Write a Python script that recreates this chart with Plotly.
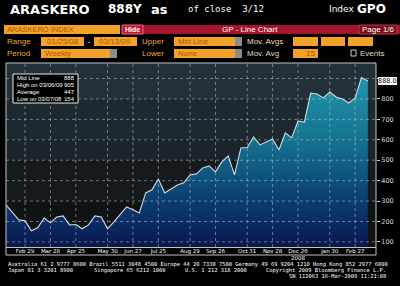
import plotly.graph_objects as go
import pandas as pd

# ---------------- data ----------------
dates = pd.date_range("2008-02-08", periods=58, freq="7D")
values = [281, 242, 208, 203, 154, 169, 217, 193, 222, 227,
          183, 185, 164, 183, 227, 222, 164, 198, 237, 271,
          257, 242, 340, 355, 408, 340, 359, 379, 389, 428,
          433, 462, 472, 443, 492, 521, 428, 560, 562, 614,
          575, 590, 604, 550, 634, 609, 692, 687, 829, 824,
          805, 834, 810, 800, 780, 805, 905, 888]
tick_dates = ["2008-02-29", "2008-03-28", "2008-04-25", "2008-05-30", "2008-06-27",
              "2008-07-25", "2008-08-29", "2008-09-26", "2008-10-31", "2008-11-28",
              "2008-12-26", "2009-01-30", "2009-02-27"]
tick_labels = ["Feb 29", "Mar 28", "Apr 25", "May 30", "Jun 27", "Jul 25", "Aug 29",
               "Sep 26", "Oct 31", "Nov 28", "Dec 26<br>2008", "Jan 30", "Feb 27"]
y_ticks = [100, 200, 300, 400, 500, 600, 700, 800, 900]
y_tick_labels = ["100", "200", "300", "400", "500", "600", "700", "800", ""]  # 900 hidden by the 888 marker
stats_labels = ["Mid Line", "High on 03/06/09", "Average", "Low on 03/07/08"]
stats_values = ["888", "905", "447", "154"]
last_label = "888.0"
last_value = 888

# ---------------- geometry helpers (pixel -> paper) ----------------
L, R, T, B = 6, 376, 63, 247
W, H = R - L, B - T
def PX(x): return (x - L) / W
def PY(y): return (B - y) / H

Y_MIN, Y_MAX = 75, 976
x_end = dates[-1] + pd.Timedelta(days=9)

fig = go.Figure()
fig.add_trace(go.Scatter(
    x=dates, y=values, mode="lines",
    line=dict(color="#d4dbe1", width=1.1),
    fill="tozeroy",
    fillgradient=dict(type="vertical",
                      colorscale=[[0.0, "#08184a"], [0.14, "#0b2d66"], [0.25, "#0c3c70"],
                                  [0.42, "#0f5a80"], [0.58, "#14738f"], [0.9, "#2092ab"],
                                  [1.0, "#259ab2"]],
                      start=Y_MIN, stop=Y_MAX),
    hoverinfo="skip", showlegend=False))

shapes = []
# background bands
bands = [(Y_MIN, 300, "#0f1314"), (300, 500, "#151b1d"), (500, 600, "#1a242a"),
         (600, 800, "#1d2931"), (800, Y_MAX, "#213039")]
for y0, y1, c in bands:
    shapes.append(dict(type="rect", xref="paper", yref="y", x0=0, x1=1, y0=y0, y1=y1,
                       fillcolor=c, line=dict(width=0), layer="below"))
# grid lines (from tick arrays)
gcol = "rgba(185,195,198,0.55)"
for v in y_ticks:
    shapes.append(dict(type="line", xref="paper", yref="y", x0=0, x1=1, y0=v, y1=v,
                       line=dict(color=gcol, width=1, dash="dot"), layer="above"))
for d in tick_dates:
    shapes.append(dict(type="line", xref="x", yref="paper", x0=d, x1=d, y0=0, y1=1,
                       line=dict(color=gcol, width=1, dash="dot"), layer="above"))
# chart frame
shapes.append(dict(type="rect", xref="paper", yref="paper", x0=PX(6), x1=PX(376),
                   y0=PY(255), y1=PY(63), line=dict(color="#c4c4c4", width=1), layer="above"))

# header boxes
def box(x0, y0, x1, y1, fill, line=None):
    shapes.append(dict(type="rect", xref="paper", yref="paper", x0=PX(x0), x1=PX(x1),
                       y0=PY(y1), y1=PY(y0), fillcolor=fill,
                       line=line or dict(width=0), layer="above"))

ORANGE = "#f4a12a"
GREY = "#8c8c8c"
box(4, 25, 120, 34, ORANGE)
box(143, 25, 400, 34, "#a6132c")
box(122, 25, 143, 34, "#c8142e", dict(color="#e07080", width=1))
box(359, 25, 397, 34, "#7c0c1c", dict(color="#b04050", width=1))
box(41, 37, 84, 46, ORANGE)
box(94, 37, 137, 46, ORANGE)
box(174, 37, 235, 46, ORANGE); box(235, 37, 242, 46, GREY)
box(293, 37, 318, 46, ORANGE); box(321, 37, 345, 46, ORANGE); box(348, 37, 373, 46, ORANGE)
box(41, 49, 110, 58, ORANGE); box(110, 49, 117, 58, GREY)
box(174, 49, 235, 58, ORANGE); box(235, 49, 242, 58, GREY)
box(293, 49, 318, 58, ORANGE)
box(351, 50, 356, 56, "#000000", dict(color="#d0d0d0", width=1))
# stats box
box(13, 74, 78, 103, "#000000", dict(color="#e8e8e8", width=1))

ann = []
def txt(x, y, s, size=8, color="#ffffff", family="Liberation Sans", anchor="left", bold=False):
    if bold:
        s = "<b>" + s + "</b>"
    ann.append(dict(xref="paper", yref="paper", x=PX(x), y=PY(y), text=s, showarrow=False,
                    xanchor=anchor, yanchor="middle",
                    font=dict(size=size, color=color, family=family)))

BOLD = "DejaVu Sans"
txt(8, 9, "ARASKERO", 13, family=BOLD, bold=True)
txt(106, 9, "888Y", 12, family=BOLD, bold=True)
txt(149, 9, "as", 13, family=BOLD, bold=True)
txt(186, 9, "of close  3/12", 9, family="DejaVu Sans Mono")
txt(327, 9, "Index", 9, family="DejaVu Sans")
txt(355, 9, "GPO", 12, family=BOLD, bold=True)

INK = "#a85800"
LBL = "#f2a43a"
txt(5, 29.8, "ARASKERO INDEX", 7.5, INK)
txt(132.5, 29.8, "Hide", 7, "#ffffff", anchor="center", bold=True)
txt(250, 29.8, "GP - Line Chart", 8, "#ffffff", anchor="center")
txt(378, 29.8, "Page 1/6", 8, "#ffffff", anchor="center")
txt(5, 41.8, "Range", 8, LBL)
txt(45, 41.8, "01/25/08", 8, INK)
txt(89, 41.8, "-", 8, "#ffffff", anchor="center")
txt(97, 41.8, "03/13/09", 8, INK)
txt(140, 41.8, "Upper", 8, LBL)
txt(176, 41.8, "Mid Line", 8, INK)
txt(245, 41.8, "Mov. Avgs", 8, "#ead8bc")
txt(5, 53.5, "Period", 8, LBL)
txt(43, 53.5, "Weekly", 8, INK)
txt(140, 53.5, "Lower", 8, LBL)
txt(176, 53.5, "None", 8, INK)
txt(245, 53.5, "Mov. Avg", 8, "#ead8bc")
txt(317, 53.5, "15", 8, INK, anchor="right")
txt(358, 53.5, "Events", 8, "#ead8bc")

for i, (lab, val) in enumerate(zip(stats_labels, stats_values)):
    yy = 78 + i * 7
    txt(15, yy, lab, 6, "#ffffff", "Liberation Sans")
    txt(77, yy, val, 6, "#ffffff", "Liberation Sans", anchor="right")

MONO = "DejaVu Sans Mono"
txt(6, 264.5, "Australia 61 2 9777 8600 Brazil 5511 3048 4500 Europe 44 20 7330 7500 "
    "Germany 49 69 9204 1210 Hong Kong 852 2977 6000", 5.4, "#ffffff", MONO)
txt(6, 270, "Japan 81 3 3201 8900", 5.4, "#ffffff", MONO)
txt(92, 270, "Singapore 65 6212 1000", 5.4, "#ffffff", MONO)
txt(183, 270, "U.S. 1 212 318 2000", 5.4, "#ffffff", MONO)
txt(388, 270, "Copyright 2009 Bloomberg Finance L.P.", 5.4, "#ffffff", MONO, anchor="right")
txt(388, 275.5, "SN 112063 16-Mar-2009 11:21:08", 5.4, "#ffffff", MONO, anchor="right")

# last value marker
ann.append(dict(xref="paper", yref="y", x=1, y=last_value, text=last_label, showarrow=False,
                xanchor="left", yanchor="middle", xshift=2, bgcolor="#ffffff",
                borderwidth=0, borderpad=0,
                font=dict(size=6.5, color="#000000", family="DejaVu Sans")))

fig.update_layout(
    width=400, height=286,
    margin=dict(l=L, r=400 - R, t=T, b=286 - B),
    paper_bgcolor="#000000", plot_bgcolor="#0f1314",
    showlegend=False,
    shapes=shapes, annotations=ann,
    xaxis=dict(range=[dates[0], x_end], tickvals=tick_dates, ticktext=tick_labels,
               showgrid=False, zeroline=False, ticks="", showline=True,
               linecolor="#c4c4c4", linewidth=1, ticklabelstandoff=-2,
               tickfont=dict(size=5.5, color="#ffffff", family="DejaVu Sans")),
    yaxis=dict(range=[Y_MIN, Y_MAX], side="right", tickvals=y_ticks, ticktext=y_tick_labels,
               showgrid=False, zeroline=False, ticks="outside", ticklen=3,
               tickcolor="#d0d0d0", showline=False,
               tickfont=dict(size=6.5, color="#d8d8d8", family="DejaVu Sans")),
)

fig.write_html("out.html")
